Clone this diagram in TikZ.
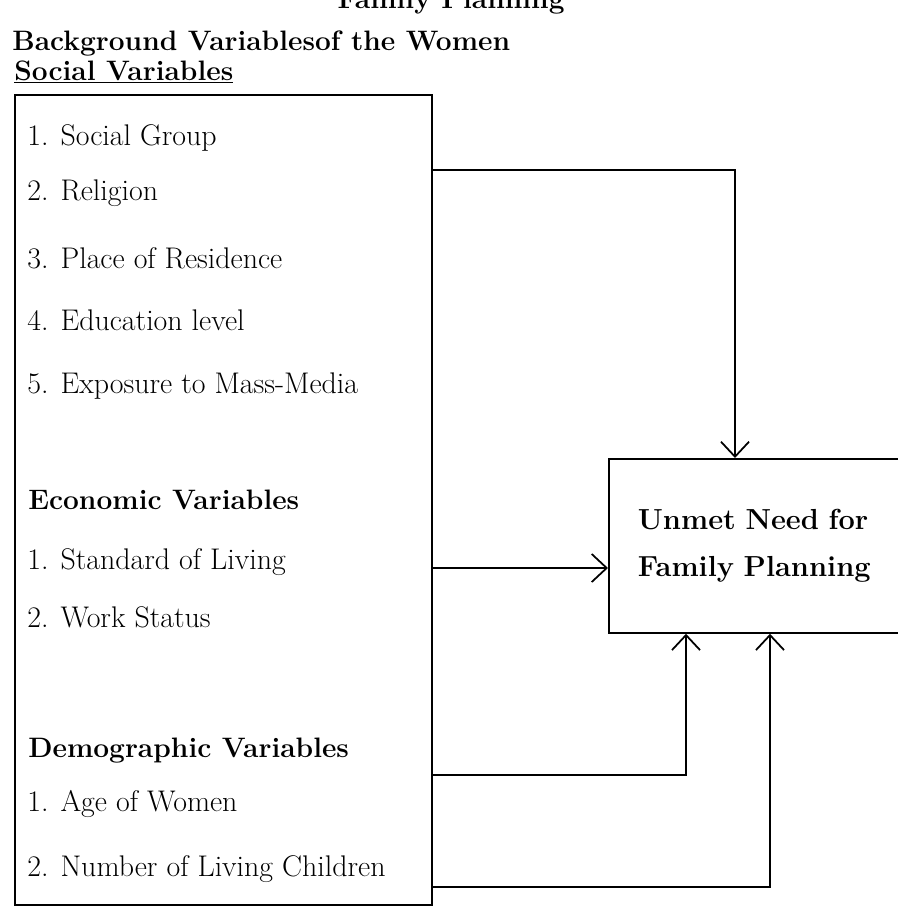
\documentclass[tikz,border=0pt]{standalone}
\usetikzlibrary{arrows.meta,fit}
\begin{document}
\begin{tikzpicture}[x=0.2mm,y=-0.2mm,
    item/.style={anchor=base west, inner sep=0pt, font=\fontsize{17}{20}\selectfont},
    head/.style={anchor=base west, inner sep=0pt, font=\fontsize{16}{19}\selectfont\bfseries},
    arr/.style={-{Straight Barb[length=3mm,width=5.6mm]}, line width=1pt}]
    \useasboundingbox (0,0) rectangle (898,923);
    \clip (0,0) rectangle (898,923);
    % Headings
    \node[head, anchor=base east] (title) at (565,8) {Family Planning};
    \node[head] (bg) at (12,50) {Background Variablesof the Women};
    \node[head] (social) at (14,80) {\underline{Social Variables}};
    % Left box
    \node[draw, line width=1pt, inner sep=0pt, fit={(15,95) (432,905)}] (vars) {};
    \foreach \n/\y/\t in {1/145/Social Group, 2/200/Religion, 3/268/Place of Residence,
                          4/330/Education level, 5/393/Exposure to Mass-Media}
        \node[item] (soc\n) at (27,\y) {\n. \t};
    \node[head] (eco) at (28,509) {Economic Variables};
    \node[item] (eco1) at (27,569) {1. Standard of Living};
    \node[item] (eco2) at (27,627) {2. Work Status};
    \node[head] (dem) at (28,757) {Demographic Variables};
    \node[item] (dem1) at (27,811) {1. Age of Women};
    \node[item] (dem2) at (27,876) {2. Number of Living Children};
    % Right box
    \node[draw, line width=1pt, anchor=north west, minimum width=70.4mm, minimum height=34.8mm,
          inner xsep=5.8mm, text width=58.8mm, align=left,
          font=\fontsize{16.5}{26.75}\selectfont\bfseries] (unmet) at (608,458)
          {Unmet Need for\\Family Planning};
    % Coordinate
    \coordinate (t1) at (735,170);
    \coordinate (t2) at (608,568);
    \coordinate (t3) at (686,775);
    \coordinate (t4) at (770,887);
    % Linee
    \draw[arr] (vars.east |- t1) -| (unmet.north -| t1);
    \draw[arr] (vars.east |- t2) -- (unmet.west |- t2);
    \draw[arr] (vars.east |- t3) -| (unmet.south -| t3);
    \draw[arr] (vars.east |- t4) -| (unmet.south -| t4);
\end{tikzpicture}
\end{document}
